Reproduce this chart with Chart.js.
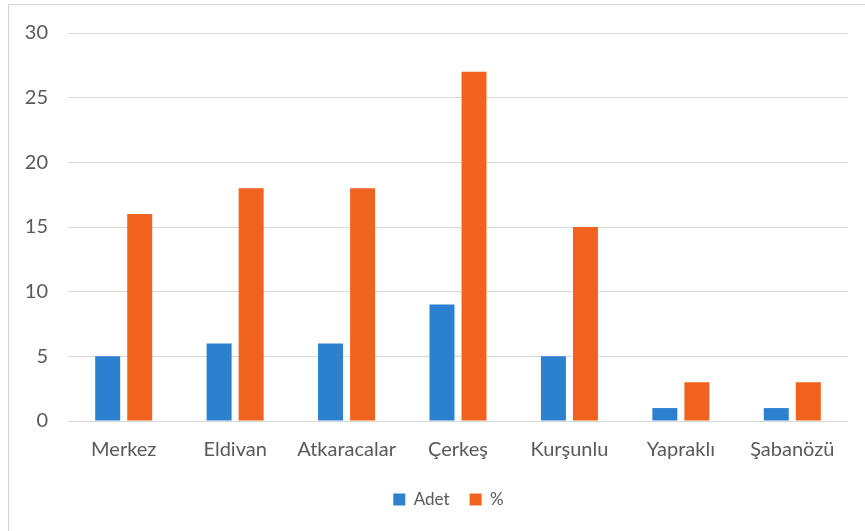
<!DOCTYPE html>
<html>
<head>
<meta charset="utf-8">
<script src="https://cdn.jsdelivr.net/npm/chart.js@4"></script>
<style>
  body { margin: 0; background: #fff; }
  .frame {
    position: absolute; left: 8px; top: 4px;
    width: 856px; height: 526px;
    border: 1px solid #d4d4d4; border-right: none; border-bottom: none;
  }
</style>
</head>
<body>
<div class="frame"><canvas id="chart" width="856" height="526"></canvas></div>
<script>
const districts = ['Merkez', 'Eldivan', 'Atkaracalar', 'Çerkeş', 'Kurşunlu', 'Yapraklı', 'Şabanözü'];
const adet = [5, 6, 6, 9, 5, 1, 1];
const yuzde = [16, 18, 18, 27, 15, 3, 3];

// nudge the legend a bit right so it sits where the original one does
const legendShift = {
    id: 'legendShift',
    afterLayout(chart) {
        chart.legend.left += 20;
        chart.legend.right += 20;
    }
};

const ctx = document.getElementById('chart').getContext('2d');
new Chart(ctx, {
    type: 'bar',
    data: {
        labels: districts,
        datasets: [
            { label: 'Adet', data: adet, backgroundColor: '#2b80d0' },
            { label: '%', data: yuzde, backgroundColor: '#f0621e' }
        ]
    },
    options: {
        responsive: false,
        animation: false,
        categoryPercentage: 0.575,
        barPercentage: 0.78,
        layout: { padding: { top: 28, right: 17, left: 0, bottom: 13 } },
        plugins: {
            legend: {
                position: 'bottom',
                labels: {
                    boxWidth: 12, boxHeight: 12, padding: 20,
                    color: '#595959',
                    font: { family: 'Lato', size: 17 }
                }
            },
            tooltip: { enabled: false }
        },
        scales: {
            x: {
                grid: { display: false },
                border: { display: false },
                ticks: { color: '#595959', padding: 9, font: { family: 'Lato', size: 20 } },
                afterFit: (scale) => { scale.height = 50; }
            },
            y: {
                min: 0, max: 30,
                ticks: { stepSize: 5, color: '#595959', padding: 20, font: { family: 'Lato', size: 20 } },
                grid: { color: '#d9d9d9', drawTicks: false },
                border: { display: false },
                afterFit: (scale) => {
                    scale.width = 59;
                    scale.paddingTop = 0;
                    scale.paddingBottom = 0;
                }
            }
        }
    },
    plugins: [legendShift]
});
</script>
</body>
</html>
